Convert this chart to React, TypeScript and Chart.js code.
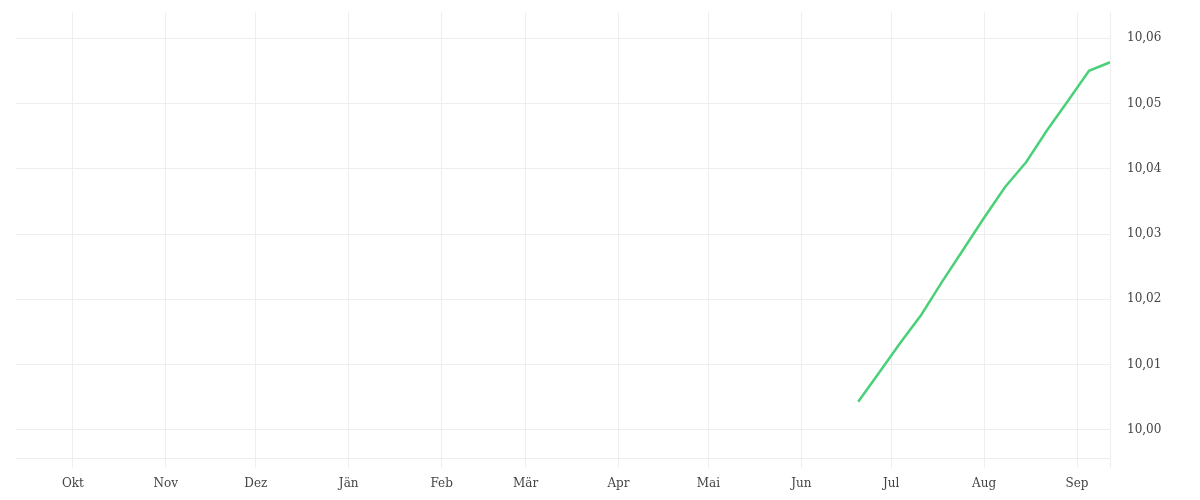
import { useEffect, useRef } from 'react';
import { Chart, registerables } from 'chart.js';

Chart.register(...registerables);

// axis range and month ticks (Okt 2022 - Sep 2023)
const rangeStart = '2022-09-12';
const rangeEnd = '2023-09-12';
const monthDates = [
  '2022-10-01', '2022-11-01', '2022-12-01', '2023-01-01', '2023-02-01', '2023-03-01',
  '2023-04-01', '2023-05-01', '2023-06-01', '2023-07-01', '2023-08-01', '2023-09-01',
];
const monthLabels = ['Okt', 'Nov', 'Dez', 'Jän', 'Feb', 'Mär', 'Apr', 'Mai', 'Jun', 'Jul', 'Aug', 'Sep'];

// weekly values
const pointDates = [
  '2023-06-20', '2023-06-27', '2023-07-04', '2023-07-11', '2023-07-18', '2023-07-25', '2023-08-01',
  '2023-08-08', '2023-08-15', '2023-08-22', '2023-08-29', '2023-09-05', '2023-09-12',
];
const pointValues = [
  10.0043, 10.0088, 10.0133, 10.0176, 10.0227, 10.0276, 10.0325,
  10.0372, 10.041, 10.0459, 10.0504, 10.055, 10.0563,
];
const yTicks = [10.0, 10.01, 10.02, 10.03, 10.04, 10.05, 10.06];

const DAY = 86400000;
const toDay = (s: string) => Math.round(Date.parse(s + 'T00:00:00Z') / DAY);

const gridColor = '#eeeeee';
const textColor = '#444444';
const font = { family: '"DejaVu Serif", serif', size: 12 };

const App = () => {
  const chartRef = useRef<HTMLCanvasElement>(null);

  useEffect(() => {
    const canvas = chartRef.current;
    if (!canvas) return;

    const monthDays = monthDates.map(toDay);
    const xMax = toDay(rangeEnd);

    const chart = new Chart(canvas, {
      type: 'line',
      data: {
        datasets: [
          {
            data: pointDates.map((d, i) => ({ x: toDay(d), y: pointValues[i] })),
            borderColor: '#4bd07a',
            borderWidth: 2.5,
            pointRadius: 0,
            tension: 0,
          },
        ],
      },
      options: {
        animation: false,
        responsive: true,
        maintainAspectRatio: false,
        layout: { padding: { left: 16, top: 0, right: 0, bottom: 0 } },
        plugins: {
          legend: { display: false },
          tooltip: { enabled: false },
        },
        scales: {
          x: {
            type: 'linear',
            min: toDay(rangeStart),
            max: xMax,
            afterBuildTicks: (scale) => {
              scale.ticks = [...monthDays, xMax].map((v) => ({ value: v }));
            },
            afterFit: (scale) => {
              scale.height = 42;
            },
            ticks: {
              autoSkip: false,
              maxRotation: 0,
              padding: 9,
              color: textColor,
              font,
              callback: (_v, i) => monthLabels[i] ?? '',
            },
            grid: { color: gridColor, tickLength: 10 },
            border: { color: gridColor },
          },
          y: {
            type: 'linear',
            position: 'right',
            min: 9.9957,
            max: 10.064,
            afterBuildTicks: (scale) => {
              scale.ticks = yTicks.map((v) => ({ value: v }));
            },
            afterFit: (scale) => {
              scale.width = 90;
              scale.paddingTop = 12;
              scale.paddingBottom = 0;
            },
            ticks: {
              padding: 17,
              color: textColor,
              font,
              callback: (v) => Number(v).toFixed(2).replace('.', ','),
            },
            grid: { color: gridColor, drawTicks: false },
            border: { color: gridColor },
          },
        },
      },
    });

    return () => {
      chart.destroy();
    };
  }, []);

  return (
    <div style={{ position: 'absolute', left: 0, top: 0, width: 1200, height: 500, background: '#fff' }}>
      <canvas ref={chartRef}></canvas>
    </div>
  );
};

export default App;
